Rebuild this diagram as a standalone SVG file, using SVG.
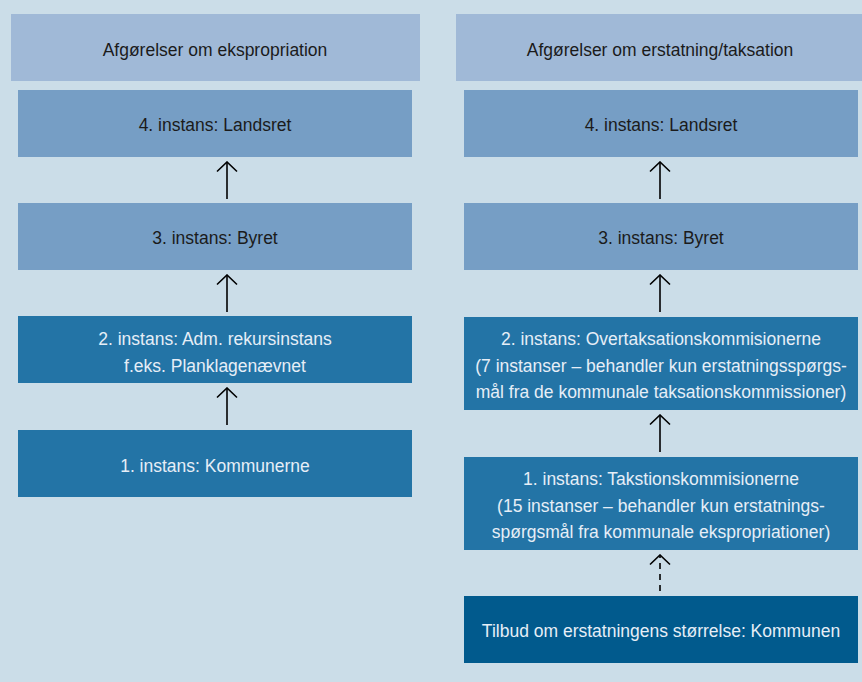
<svg xmlns="http://www.w3.org/2000/svg" width="862" height="682" viewBox="0 0 862 682">
<defs>
<style>
.hdr{fill:#a0b9d7}
.mid{fill:#769ec5}
.dk{fill:#2374a6}
.dkr{fill:#015a8d}
text{font-family:"Liberation Sans",Arial,sans-serif;font-size:17.5px;text-anchor:middle}
.tb{fill:#1b1b1b}
.tw{fill:#e6eef7}
.ar{stroke:#000;stroke-width:1.6;fill:none}
</style>
<marker id="ah" viewBox="0 0 12 22" refX="10.5" refY="11" markerWidth="12" markerHeight="22" markerUnits="userSpaceOnUse" orient="auto">
<path d="M1,1 L10.5,11 L1,21" stroke="#000" stroke-width="1.6" fill="none"/>
</marker>
</defs>
<rect width="862" height="682" fill="#cbdde8"/>
<g id="hdr-left"><rect class="hdr" x="11" y="14" width="409" height="67"/><text class="tb" x="215" y="56">Afgørelser om ekspropriation</text></g>
<g id="hdr-right"><rect class="hdr" x="456" y="14" width="406" height="67"/><text class="tb" x="660" y="56">Afgørelser om erstatning/taksation</text></g>
<g id="l4"><rect class="mid" x="18" y="90" width="394" height="67"/><text class="tb" x="215" y="131">4. instans: Landsret</text></g>
<g id="l3"><rect class="mid" x="18" y="203" width="394" height="67"/><text class="tb" x="215" y="244">3. instans: Byret</text></g>
<g id="l2"><rect class="dk" x="18" y="316" width="394" height="67"/><text class="tw" x="215" y="345">2. instans: Adm. rekursinstans</text><text class="tw" x="215" y="372">f.eks. Planklagenævnet</text></g>
<g id="l1"><rect class="dk" x="18" y="430" width="394" height="67"/><text class="tw" x="215" y="472">1. instans: Kommunerne</text></g>
<g id="r4"><rect class="mid" x="464" y="90" width="394" height="67"/><text class="tb" x="661" y="131">4. instans: Landsret</text></g>
<g id="r3"><rect class="mid" x="464" y="203" width="394" height="67"/><text class="tb" x="661" y="244">3. instans: Byret</text></g>
<g id="r2"><rect class="dk" x="464" y="317" width="394" height="93"/><text class="tw" x="661" y="345">2. instans: Overtaksationskommisionerne</text><text class="tw" x="661" y="372">(7 instanser – behandler kun erstatningsspørgs-</text><text class="tw" x="661" y="398">mål fra de kommunale taksationskommissioner)</text></g>
<g id="r1"><rect class="dk" x="464" y="457" width="394" height="93"/><text class="tw" x="661" y="485">1. instans: Takstionskommisionerne</text><text class="tw" x="661" y="512">(15 instanser – behandler kun erstatnings-</text><text class="tw" x="661" y="538">spørgsmål fra kommunale ekspropriationer)</text></g>
<g id="r0"><rect class="dkr" x="464" y="596" width="394" height="67"/><text class="tw" x="661" y="637">Tilbud om erstatningens størrelse: Kommunen</text></g>
<g id="connectors">
<line class="ar" x1="227" y1="199" x2="227" y2="162" marker-end="url(#ah)"/>
<line class="ar" x1="227" y1="312" x2="227" y2="275" marker-end="url(#ah)"/>
<line class="ar" x1="227" y1="425" x2="227" y2="388" marker-end="url(#ah)"/>
<line class="ar" x1="660" y1="199" x2="660" y2="162" marker-end="url(#ah)"/>
<line class="ar" x1="660" y1="312" x2="660" y2="275" marker-end="url(#ah)"/>
<line class="ar" x1="660" y1="452" x2="660" y2="415" marker-end="url(#ah)"/>
<line class="ar" x1="660" y1="591" x2="660" y2="555" stroke-dasharray="6,5" marker-end="url(#ah)"/>
</g>
</svg>
